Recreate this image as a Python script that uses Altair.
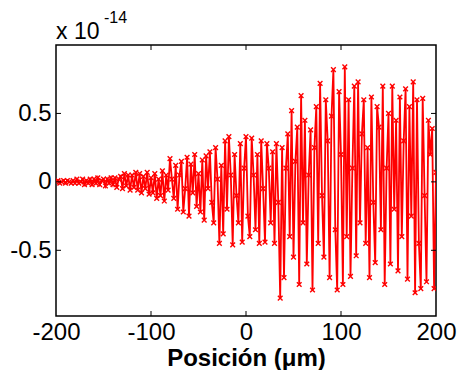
import altair as alt
import pandas as pd

# Position (um), step 2
x_um = list(range(-200, 201, 2))

# Signal in units of 1e-14
y_e14 = [
    0.00, 0.01, -0.01, 0.00, 0.01, -0.01, 0.01, 0.00, -0.01, 0.01,
    -0.01, 0.02, -0.01, 0.00, 0.02, -0.02, 0.01, -0.01, 0.02, -0.02,
    0.02, -0.01, 0.03, -0.02, 0.01, 0.02, -0.03, 0.02, -0.01, 0.03,
    -0.02, 0.03, -0.04, 0.02, 0.04, -0.05, 0.06, -0.03, 0.05, -0.06,
    0.05, -0.04, 0.07, -0.06, 0.06, -0.08, 0.04, -0.05, 0.07, -0.09,
    0.03, -0.08, 0.06, -0.12, 0.02, -0.10, 0.08, -0.14, 0.05, -0.06,
    0.17, 0.02, -0.12, 0.12, -0.20, 0.05, 0.15, -0.22, -0.05, 0.18,
    -0.25, 0.13, -0.08, 0.20, -0.18, 0.06, -0.22, 0.16, -0.28, 0.19,
    -0.05, 0.22, -0.15, -0.30, 0.25, 0.02, -0.45, 0.12, -0.38, 0.30,
    -0.20, 0.33, 0.05, -0.46, 0.20, -0.10, -0.30, 0.28, -0.44, 0.10,
    0.33, -0.25, -0.40, 0.32, 0.05, -0.35, 0.20, -0.45, 0.30, -0.05,
    -0.44, 0.28, 0.10, -0.30, 0.22, -0.45, 0.28, -0.15, -0.85, 0.25,
    -0.70, 0.10, 0.35, -0.40, 0.52, -0.55, 0.15, 0.40, -0.75, 0.63,
    -0.30, 0.45, -0.60, 0.05, 0.38, -0.79, 0.25, 0.55, -0.45, 0.72,
    -0.10, -0.55, 0.60, 0.30, -0.70, 0.48, 0.82, -0.35, -0.79, 0.66,
    0.20, -0.75, 0.84, -0.40, 0.60, -0.69, 0.10, 0.70, -0.54, 0.73,
    -0.30, 0.35, 0.60, -0.45, 0.25, -0.70, 0.62, -0.15, -0.59, 0.55,
    0.40, -0.35, 0.70, -0.75, 0.10, 0.50, -0.60, 0.70, -0.20, 0.45,
    -0.65, 0.62, -0.40, 0.30, 0.68, -0.71, 0.55, -0.25, 0.73, -0.81,
    0.60, -0.45, -0.78, 0.61, -0.10, -0.73, 0.45, 0.20, 0.39, -0.78,
    0.07,
]

x_ticks = [-200, -100, 0, 100, 200]
y_ticks = [-0.5, 0, 0.5]
x_inner_ticks = [-100, 0, 100]

W, H = 380, 271
FONT = "Liberation Sans"

df = pd.DataFrame({"x": x_um, "y": y_e14})
xscale = alt.Scale(domain=[-200, 200], nice=False, zero=False)
yscale = alt.Scale(domain=[-0.98, 1.0], nice=False, zero=False)

x_axis = alt.Axis(values=x_ticks, title="Posición (μm)",
                  labelExpr="toString(datum.value)",
                  labelFlush=False, labelOverlap=False,
                  labelPadding=4, titlePadding=2)
y_axis = alt.Axis(values=y_ticks, title=None,
                  labelExpr="toString(datum.value)",
                  labelPadding=5)

base = alt.Chart(df)
line = base.mark_line(color="#ff0000", strokeWidth=1.8, clip=True).encode(
    x=alt.X("x:Q", scale=xscale, axis=x_axis),
    y=alt.Y("y:Q", scale=yscale, axis=y_axis),
)
pts = base.mark_point(shape="M-1,-1L1,1M1,-1L-1,1", color="#ff0000",
                      filled=False, size=22, strokeWidth=1.4, opacity=1, clip=True).encode(
    x=alt.X("x:Q", scale=xscale, axis=x_axis),
    y=alt.Y("y:Q", scale=yscale, axis=y_axis),
)

xt = alt.Chart(pd.DataFrame({"x": x_inner_ticks}))
yt = alt.Chart(pd.DataFrame({"y": y_ticks}))
tick_b = xt.mark_rule(color="black", strokeWidth=1).encode(
    x=alt.X("x:Q", scale=xscale, axis=x_axis), y=alt.value(H), y2=alt.value(H - 5))
tick_t = xt.mark_rule(color="black", strokeWidth=1).encode(
    x=alt.X("x:Q", scale=xscale, axis=x_axis), y=alt.value(0), y2=alt.value(5))
tick_l = yt.mark_rule(color="black", strokeWidth=1).encode(
    y=alt.Y("y:Q", scale=yscale, axis=y_axis), x=alt.value(0), x2=alt.value(5))
tick_r = yt.mark_rule(color="black", strokeWidth=1).encode(
    y=alt.Y("y:Q", scale=yscale, axis=y_axis), x=alt.value(W), x2=alt.value(W - 5))

exp_main = alt.Chart(pd.DataFrame({"t": ["x 10"]})).mark_text(
    align="left", baseline="alphabetic", fontSize=23, font=FONT, color="black"
).encode(text="t:N", x=alt.value(0), y=alt.value(-6))
exp_sup = alt.Chart(pd.DataFrame({"t": ["-14"]})).mark_text(
    align="left", baseline="alphabetic", fontSize=16, font=FONT, color="black"
).encode(text="t:N", x=alt.value(48), y=alt.value(-22))

chart = alt.layer(line, pts, tick_b, tick_t, tick_l, tick_r, exp_main, exp_sup).properties(
    width=W, height=H,
    autosize=alt.AutoSizeParams(type="none"),
    padding={"left": 48, "top": 37, "right": 22, "bottom": 54},
    background="white",
).configure_view(stroke="black", strokeWidth=1.5).configure_axis(
    domain=False, ticks=False, grid=False,
    labelFont=FONT, labelFontSize=24, labelColor="black",
    titleFont=FONT, titleFontSize=24, titleFontWeight="bold", titleColor="black",
)

chart.save("out.html", embed_options={"renderer": "svg", "actions": False})
